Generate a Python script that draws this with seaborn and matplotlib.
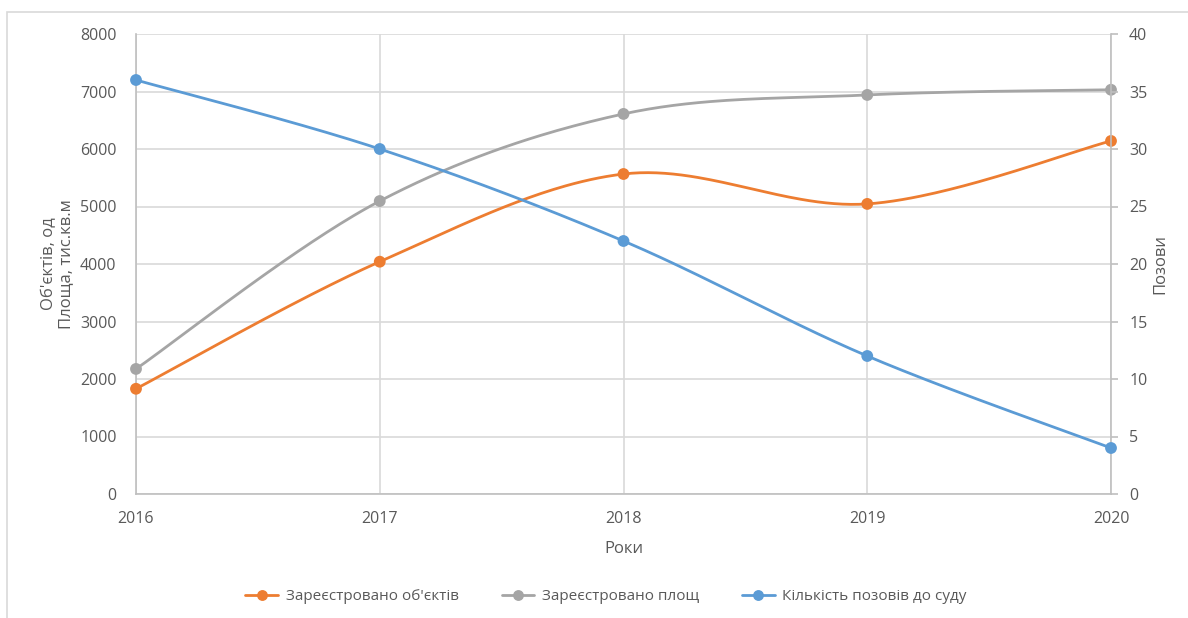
import numpy as np
import pandas as pd
import matplotlib
matplotlib.use("Agg")
import matplotlib.pyplot as plt
import seaborn as sns
from matplotlib.lines import Line2D
from matplotlib.patches import Rectangle

# Data
years = [2016, 2017, 2018, 2019, 2020]
objects_registered = [1830, 4040, 5565, 5045, 6140]
area_registered = [2175, 5095, 6610, 6940, 7030]
lawsuits = [36, 30, 22, 12, 4]

left_ticks = [0, 1000, 2000, 3000, 4000, 5000, 6000, 7000, 8000]
right_ticks = [0, 5, 10, 15, 20, 25, 30, 35, 40]

labels = ["Зареєстровано об'єктів", "Зареєстровано площ", "Кількість позовів до суду"]
colors = ["#ED7D31", "#A5A5A5", "#5B9BD5"]

TEXT = "#595959"
GRID = "#D9D9D9"
AXIS = "#BFBFBF"


def smooth(xs, ys, n=60):
    """Cubic Bezier smoothing through every point (spreadsheet-style)."""
    p = np.column_stack([np.asarray(xs, float), np.asarray(ys, float)])
    out = []
    for i in range(len(p) - 1):
        p0 = p[i - 1] if i > 0 else p[i]
        p1, p2 = p[i], p[i + 1]
        p3 = p[i + 2] if i + 2 < len(p) else p[i + 1]
        c1 = p1 + (p2 - p0) / 6.0
        c2 = p2 - (p3 - p1) / 6.0
        t = np.linspace(0, 1, n)[:, None]
        seg = ((1 - t) ** 3) * p1 + 3 * ((1 - t) ** 2) * t * c1 + 3 * (1 - t) * t ** 2 * c2 + t ** 3 * p2
        out.append(seg if i == 0 else seg[1:])
    s = np.vstack(out)
    return s[:, 0], s[:, 1]


sns.set_theme(style="white")
plt.rcParams["font.family"] = ["Open Sans", "DejaVu Sans"]

fig = plt.figure(figsize=(11.88, 6.18), dpi=100)
ax = fig.add_axes([136 / 1188, 1 - 494 / 618, (1111 - 136) / 1188, 460 / 618])
ax2 = ax.twinx()

# outer chart frame
fig.patches.append(Rectangle((7 / 1188, -0.01), 1.2, 1 - 12 / 618 + 0.01,
                             transform=fig.transFigure, fill=False,
                             edgecolor="#D9D9D9", linewidth=1.2, zorder=0))

lw = 2.0
ms = 8.5
for vals, col, a in [(objects_registered, colors[0], ax), (area_registered, colors[1], ax), (lawsuits, colors[2], ax2)]:
    sx, sy = smooth(years, vals)
    sns.lineplot(x=sx, y=sy, ax=a, color=col, linewidth=lw, sort=False, estimator=None, zorder=3)
    sns.scatterplot(x=years, y=vals, ax=a, color=col, s=ms ** 2, edgecolor="none", zorder=4, clip_on=False)

ax.set_xlim(2016, 2020)
ax.set_ylim(0, 8000)
ax2.set_ylim(0, 40)
ax.set_xticks(years)
ax.set_xticklabels([str(y) for y in years])
ax.set_yticks(left_ticks)
ax.set_yticklabels([str(v) for v in left_ticks])
ax2.set_yticks(right_ticks)
ax2.set_yticklabels([str(v) for v in right_ticks])

ax.grid(True, color=GRID, linewidth=1.2)
ax2.grid(False)
ax.set_axisbelow(True)

for a in (ax, ax2):
    for s in ("top", "left", "right", "bottom"):
        a.spines[s].set_visible(False)
ax.spines["bottom"].set_visible(True)
ax.spines["bottom"].set_color(AXIS)
ax.spines["bottom"].set_linewidth(1.2)
ax2.spines["right"].set_visible(True)
ax2.spines["right"].set_color(AXIS)
ax2.spines["right"].set_linewidth(1.2)
ax.spines["left"].set_visible(True)
ax.spines["left"].set_color(AXIS)
ax.spines["left"].set_linewidth(1.2)

ax.tick_params(axis="y", length=0, pad=14, labelsize=11.5, labelcolor=TEXT)
ax.tick_params(axis="x", length=0, pad=12, labelsize=11.5, labelcolor=TEXT)
ax2.tick_params(axis="y", length=5, width=1.2, color=AXIS, direction="out", pad=8,
                labelsize=11.5, labelcolor=TEXT)

ax.set_xlabel("Роки", fontsize=12, color=TEXT, labelpad=10)
ax.set_ylabel("Об'єктів, од\nПлоща, тис.кв.м", fontsize=12, color=TEXT, labelpad=4, linespacing=1.1)
ax2.set_ylabel("Позови", fontsize=12, color=TEXT, labelpad=4, rotation=90)

handles = [Line2D([0], [0], color=c, linewidth=lw, marker="o", markersize=ms * 0.8) for c in colors]
fig.legend(handles, labels, loc="center", bbox_to_anchor=(606 / 1188, 1 - 597 / 618), ncol=3,
           frameon=False, fontsize=11, labelcolor=TEXT, handlelength=2.15, handletextpad=0.5,
           columnspacing=2.8)

fig.savefig("out.png", dpi=100, facecolor="white")
